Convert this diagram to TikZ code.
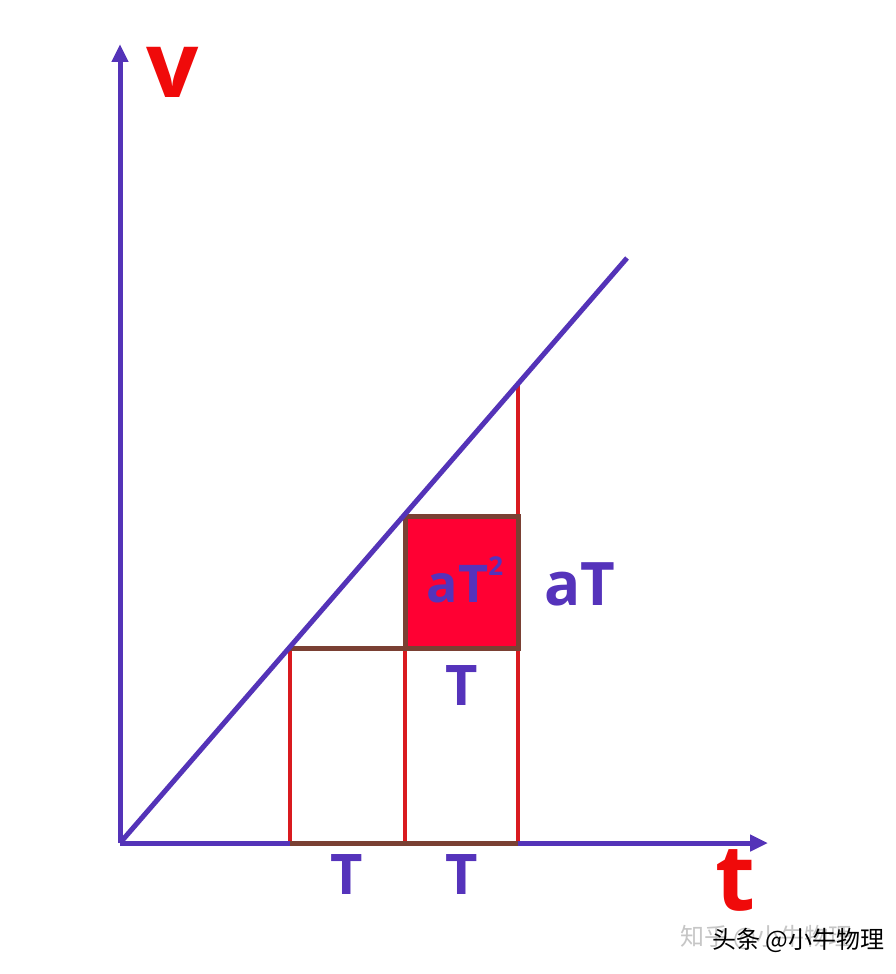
\documentclass[tikz,border=0pt]{standalone}
\usepackage{fontspec}
\setmainfont{Open Sans}
\newfontfamily\cjk{Noto Sans CJK SC}
\usetikzlibrary{arrows.meta}
\definecolor{axisc}{HTML}{5433B8}
\definecolor{redl}{HTML}{D91A1F}
\definecolor{brownl}{HTML}{7A4033}
\definecolor{sqfill}{HTML}{FF0033}
\definecolor{labc}{HTML}{5533BB}
\definecolor{vred}{HTML}{F00A0A}
\tikzset{
  axis/.style={draw=axisc,line width=5pt,-{Triangle[length=18pt,width=16pt]}},
  redline/.style={draw=redl,line width=4.5pt},
  brownline/.style={draw=brownl,line width=5pt},
  lab/.style={text=labc,font=\bfseries\fontsize{56}{60}\selectfont,inner sep=0pt},
  axlab/.style={text=vred,font=\bfseries\fontsize{92}{96}\selectfont,inner sep=0pt},
}
\begin{document}
\begin{tikzpicture}[x=1pt,y=-1pt]
\useasboundingbox (0,0) rectangle (896,974);
\fill[white] (0,0) rectangle (896,974);
\coordinate (O) at (120,843);
\coordinate (vtip) at (120,44);
\coordinate (ttip) at (768,843);
\coordinate (dend) at (627,258);
% square fill
\fill[sqfill] (405,516) rectangle (518,648);
% red verticals
\coordinate (a0) at (290,843); \coordinate (a1) at (290,648);
\coordinate (b0) at (405,843); \coordinate (b1) at (405,516);
\coordinate (c0) at (518,843); \coordinate (c1) at (518,384);
\draw[redline] (a0) -- (a1);
\draw[redline] (b0) -- (b1);
\draw[redline] (c0) -- (c1);
% axes
\draw[axis] (O) -- (vtip);
\draw[axis] (O) -- (ttip);
% brown lines
\draw[brownline] (a0) -- (c0);
\draw[brownline] (a1) -- (405,648);
\draw[brownline,line join=miter] (405,516) rectangle (518,648);
% diagonal
\draw[draw=axisc,line width=5pt] (O) -- (dend);
% labels
\node[axlab] (v) at (173,72) {v};
\node[axlab] (t) at (735,880) {t};
\node[lab,font=\bfseries\fontsize{52}{56}\selectfont] (aT2) at (465,580) {aT\raisebox{0.52em}{\fontsize{26}{28}\selectfont 2}};
\node[lab,font=\bfseries\fontsize{60}{64}\selectfont] (aT) at (580,584) {aT};
\node[lab] (T1) at (462,686) {T};
\node[lab] (T2) at (347,874) {T};
\node[lab] (T3) at (462,874) {T};
% watermarks
\node[text=gray!45,font=\cjk\fontsize{24}{26}\selectfont,anchor=west,inner sep=0pt] (wm1) at (680,937) {知乎 @小牛物理};
\node[text=black,font=\cjk\fontsize{24}{26}\selectfont,anchor=west,inner sep=0pt] (wm2) at (712,940) {头条 @小牛物理};
\end{tikzpicture}
\end{document}
